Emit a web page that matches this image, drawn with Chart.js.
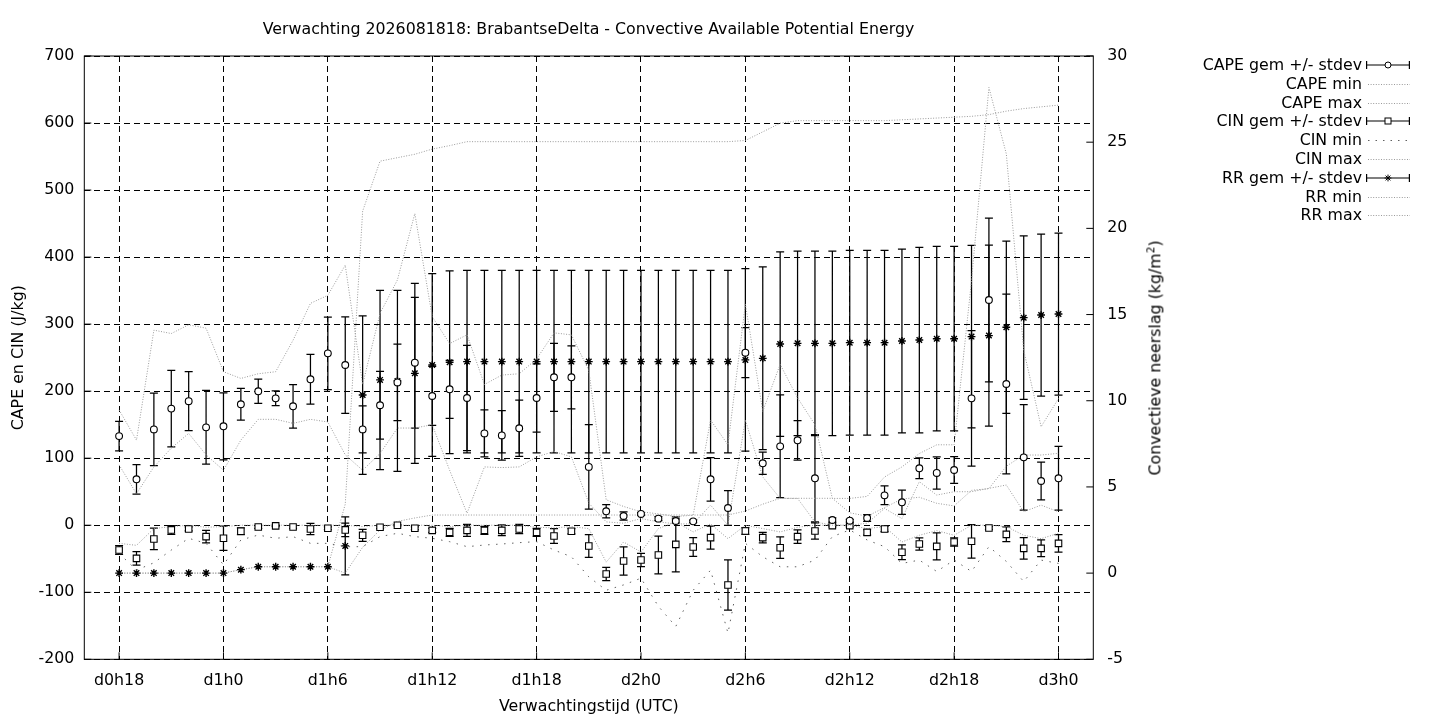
<!DOCTYPE html>
<html lang="nl">
<head>
<meta charset="utf-8">
<title>Verwachting CAPE BrabantseDelta</title>
<script src="https://cdn.jsdelivr.net/npm/chart.js@4.4.1/dist/chart.umd.min.js"></script>
<style>
  body { margin: 0; background: #fff; }
  #kader { position: relative; width: 1440px; height: 720px; font-family: "DejaVu Sans", sans-serif; color: #000; }
  #grafiek { position: absolute; left: 0; top: 0; }
  #titel { position: absolute; left: 84px; width: 1009px; top: 20px; text-align: center; font-size: 15.8px; line-height: 18px; }
  #y2titel { position: absolute; left: 1153px; top: 358px; font-size: 15.8px; line-height: 18px; white-space: nowrap; transform: translate(-50%, -50%) rotate(-90deg); }
  .rij { position: absolute; left: 1090px; width: 320px; height: 18px; font-size: 15.8px; line-height: 18px; }
  .rij span { position: absolute; right: 48px; top: 0; white-space: nowrap; }
  .rij svg { position: absolute; right: 0; top: 3px; }
</style>
</head>
<body>
<div id="kader">
  <canvas id="grafiek" width="1440" height="720"></canvas>
  <div id="titel">Verwachting 2026081818: BrabantseDelta - Convective Available Potential Energy</div>
  <div id="y2titel">Convectieve neerslag (kg/m<sup style="font-size:10.5px">2</sup>)</div>
  <div id="legenda"></div>
</div>
<script>
// uren na d0h0
const uren = [18,19,20,21,22,23,24,25,26,27,28,29,30,31,32,33,34,35,36,37,38,39,40,41,42,43,44,45,
  46,47,48,49,50,51,52,53,54,55,56,57,58,59,60,61,62,63,64,65,66,67,68,69,70,71,72];

const tijdTicks = [18, 24, 30, 36, 42, 48, 54, 60, 66, 72];
const tijdLabels = ['d0h18','d1h0','d1h6','d1h12','d1h18','d2h0','d2h6','d2h12','d2h18','d3h0'];

const capeGem = [133,68.5,143,174,185,146,147.6,180.4,199.8,189.3,177.4,217.7,256.4,239,143,179,213,242.5,
  192.8,202.8,189.8,137,134,144.6,189.8,220.7,220.7,87,20.8,13.8,16.8,9.8,6.3,5.8,68.5,25.7,257.4,92.4,
  117.7,126.7,70,7.8,6.8,10.8,44.6,34.2,84.9,78,82.4,189.3,336,210.7,101.3,66,70];
const capeSd = [22,22,54,57,44,55,50,23.6,18,11,32.5,37,54,72,35,50.5,57,97.5,44,43.3,78.5,35,37,42,51,
  50.7,47,63,10,6,2,3,3,2,32.5,26,37.3,16.5,76.6,29.4,65,3,2,5,14,18,15.5,24,20,101,122,134,78.6,28,47.5];
const capeMin = [90,47,87,115,137,105,82,127,158,158,152,158,154,105,82,107,145,145,150,82,18,87,86,87,
  102,110,102,33,5,3,10,5,2,2,30,0,157,72,40,40,5,0,0,3,25,10,65,45,50,50,55,60,20,30,20];
const capeMax = [172,127,291,286,299,294,229,219,226,229,276,331,343,388,210,316,366,465,311,271,284,210,
  224,226,248,287,284,231,38,28,20,17,13,15,157,120,330,170,240,190,150,40,40,43,72,87,107,120,120,365,
  653,554,261,147,189];

const cinGem = [-37,-49.4,-20.5,-7,-5.6,-17,-19.5,-9,-2.6,-1,-2.6,-5.6,-4.6,-7,-15,-3.1,0,-4.6,-7.6,-10.6,
  -7.6,-7.6,-7.6,-5.6,-10.6,-16,-9,-31,-72.8,-53.4,-51.9,-44.4,-28.5,-32.5,-18.5,-89.2,-8.6,-18.5,-33.5,
  -17,-8.6,-0.6,-0.6,-10.6,-5.6,-40.4,-28,-31.5,-25,-24,-4.1,-13.6,-34.5,-34.5,-27];
const cinSd = [6.5,10,16,6.5,3,9.5,18,5,2,1,2,8.5,2,10,9,2,1,2,3,6,9,6,8,7,6,11,4,17,10,21,10,28,41,14,17,
  37.5,5,8,16,10,12,2,2,4,4,11,9,20,6,25,2,11,16,12.5,13];
const cinMin = [-42,-67,-56,-37,-19.5,-27,-59,-22,-14.6,-19.5,-17,-27,-27,-32,-32,-17,-12,-17,-19.5,-24.5,
  -32,-29.5,-28,-26,-24.5,-37,-47,-77,-97,-89,-79,-121,-151,-97,-67,-161,-27,-47,-62,-62,-52,-17,-7,-22,
  -32,-57,-52,-69,-52,-69,-32,-54,-84,-52,-57];
const cinMax = [-27,-30,-5,-2,0,-3,-2,0,0,0,0,0,0,0,-2,0,0,0,0,-2,0,0,0,0,-3,-4,-2,-5,-55,-25,-40,-5,5,
  -10,2,-20,0,-5,-10,-3,0,0,0,-5,-2,-25,-15,-8,-15,0,0,-2,-15,-20,-12];

const rrGem = [0,0,0,0,0,0,0,0.2,0.37,0.37,0.37,0.37,0.37,1.58,10.33,11.21,11.15,11.59,12.07,12.23,
  12.27,12.27,12.27,12.27,12.27,12.27,12.27,12.27,12.27,12.27,12.27,12.27,12.27,12.27,12.27,12.27,
  12.37,12.46,13.29,13.33,13.33,13.33,13.37,13.37,13.37,13.47,13.52,13.6,13.6,13.72,13.78,14.26,14.82,14.97,15.03];
const rrSd = [0,0,0,0,0,0,0,0,0,0,0,0,0,1.68,4.6,5.2,5.25,5.22,5.3,5.3,5.3,5.3,5.3,5.3,5.3,5.3,5.3,5.3,
  5.3,5.3,5.3,5.3,5.3,5.3,5.3,5.3,5.3,5.3,5.35,5.35,5.35,5.35,5.36,5.36,5.36,5.33,5.38,5.35,5.35,5.3,
  5.25,5.0,4.74,4.7,4.7];
const rrMin = [0,0,0,0,0,0,0,0.2,0.37,0.37,0.37,0.37,0.37,0,1.5,2.5,3.0,3.2,3.37,3.37,3.37,3.37,3.37,3.37,
  3.37,3.37,3.37,3.37,3.37,3.37,3.37,3.37,3.37,3.37,3.37,3.37,3.6,4.0,4.34,4.34,4.34,4.34,3.5,3.3,3.8,4.3,
  4.4,4.05,3.9,4.8,4.9,6.2,6.85,6.85,6.95];
const rrMax = [0,0,0,0,0,0,0,0.2,0.37,0.37,0.37,0.37,0.37,4,21,23.9,24.1,24.3,24.6,24.8,25.03,25.03,25.03,
  25.03,25.03,25.03,25.03,25.03,25.03,25.03,25.03,25.03,25.03,25.03,25.03,25.03,25.1,25.6,26.1,26.25,
  26.25,26.25,26.25,26.25,26.25,26.3,26.35,26.4,26.45,26.5,26.6,26.8,26.95,27.05,27.15];

const legendaTeksten = ['CAPE gem +/- stdev','CAPE min','CAPE max','CIN gem +/- stdev','CIN min','CIN max',
  'RR gem +/- stdev','RR min','RR max'];
const legendaSoort = ['cirkel','stip','stip','vierkant','grof','stip','ster','stip','stip'];

const lichtGrijs = '#9a9a9a';
const donkerGrijs = '#606060';

function punten(waarden) {
  return waarden.map((v, i) => ({ x: uren[i], y: v }));
}

function stippellijn(label, waarden, as, kleur, streep) {
  return {
    label, data: punten(waarden), yAxisID: as,
    borderColor: kleur, borderWidth: 1, borderDash: streep,
    pointRadius: 0, pointHoverRadius: 0, fill: false, tension: 0
  };
}

function gemiddelde(label, waarden, sd, as, stijl, straal, dikte) {
  return {
    label, data: punten(waarden), stdev: sd, yAxisID: as,
    showLine: false, pointStyle: stijl, pointRadius: straal,
    pointBorderColor: '#000', pointBackgroundColor: '#fff', pointBorderWidth: dikte
  };
}

// foutbalken (gem +/- stdev) tekenen met de schalen van de grafiek
const foutbalken = {
  id: 'foutbalken',
  beforeDatasetsDraw(chart) {
    const ctx = chart.ctx;
    const xs = chart.scales.x;
    chart.data.datasets.forEach(ds => {
      if (!ds.stdev) return;
      const ys = chart.scales[ds.yAxisID];
      ctx.save();
      ctx.strokeStyle = '#000';
      ctx.lineWidth = 1.25;
      ctx.beginPath();
      ds.data.forEach((p, j) => {
        const s = ds.stdev[j];
        if (!s) return;
        const x = xs.getPixelForValue(p.x);
        const boven = ys.getPixelForValue(p.y + s);
        const onder = ys.getPixelForValue(p.y - s);
        ctx.moveTo(x, boven); ctx.lineTo(x, onder);
        ctx.moveTo(x - 4, boven); ctx.lineTo(x + 4, boven);
        ctx.moveTo(x - 4, onder); ctx.lineTo(x + 4, onder);
      });
      ctx.stroke();
      ctx.restore();
    });
  }
};

// rand om het plotgebied met tics naar binnen (zoals gnuplot)
const rand = {
  id: 'rand',
  afterDatasetsDraw(chart) {
    const { ctx, chartArea: a, scales } = chart;
    ctx.save();
    ctx.setLineDash([]);
    ctx.strokeStyle = '#000';
    ctx.lineWidth = 1;
    ctx.strokeRect(a.left, a.top, a.right - a.left, a.bottom - a.top);
    ctx.beginPath();
    scales.y.ticks.forEach(t => {
      const y = scales.y.getPixelForValue(t.value);
      ctx.moveTo(a.left, y); ctx.lineTo(a.left + 7, y);
    });
    scales.y2.ticks.forEach(t => {
      const y = scales.y2.getPixelForValue(t.value);
      ctx.moveTo(a.right, y); ctx.lineTo(a.right - 7, y);
    });
    scales.x.ticks.forEach(t => {
      const x = scales.x.getPixelForValue(t.value);
      ctx.moveTo(x, a.bottom); ctx.lineTo(x, a.bottom - 7);
    });
    ctx.stroke();
    ctx.restore();
  }
};

Chart.defaults.font.family = '"DejaVu Sans", sans-serif';
Chart.defaults.font.size = 15.8;
Chart.defaults.color = '#000';

const rasterLijn = { color: '#000', lineWidth: 1, drawTicks: false };

new Chart(document.getElementById('grafiek'), {
  type: 'line',
  data: {
    datasets: [
      gemiddelde('CAPE gem +/- stdev', capeGem, capeSd, 'y', 'circle', 3.4, 1.1),
      stippellijn('CAPE min', capeMin, 'y', lichtGrijs, [1, 1.6]),
      stippellijn('CAPE max', capeMax, 'y', lichtGrijs, [1, 1.6]),
      gemiddelde('CIN gem +/- stdev', cinGem, cinSd, 'y', 'rect', 4.6, 1.1),
      stippellijn('CIN min', cinMin, 'y', donkerGrijs, [1.5, 6.5]),
      stippellijn('CIN max', cinMax, 'y', lichtGrijs, [1, 1.6]),
      gemiddelde('RR gem +/- stdev', rrGem, rrSd, 'y2', 'star', 3.9, 1.4),
      stippellijn('RR min', rrMin, 'y2', lichtGrijs, [1, 1.6]),
      stippellijn('RR max', rrMax, 'y2', lichtGrijs, [1, 1.6])
    ]
  },
  options: {
    responsive: false,
    animation: false,
    devicePixelRatio: 1,
    layout: { padding: { left: 0, right: 276.7, top: 56, bottom: 0 } },
    plugins: { legend: { display: false }, tooltip: { enabled: false } },
    scales: {
      x: {
        type: 'linear', min: 16, max: 74,
        afterBuildTicks: s => { s.ticks = tijdTicks.map(v => ({ value: v })); },
        afterFit: s => { s.height = 60.7; },
        ticks: {
          padding: 12, maxRotation: 0, autoSkip: false,
          callback: v => tijdLabels[tijdTicks.indexOf(v)]
        },
        grid: rasterLijn,
        border: { display: false, dash: [6, 4] },
        title: { display: true, text: 'Verwachtingstijd (UTC)', padding: { top: 0, bottom: 4 } }
      },
      y: {
        position: 'left', min: -200, max: 700,
        afterFit: s => { s.width = 84.3; },
        ticks: { stepSize: 100, padding: 10 },
        grid: rasterLijn,
        border: { display: false, dash: [6, 4] },
        title: { display: true, text: 'CAPE en CIN (J/kg)', padding: { top: 9, bottom: 0 } }
      },
      y2: {
        position: 'right', min: -5, max: 30,
        afterFit: s => { s.width = 70; },
        ticks: { stepSize: 5, padding: 14 },
        grid: { display: false, drawTicks: false },
        border: { display: false }
      }
    }
  },
  plugins: [foutbalken, rand]
});

// legenda zoals gnuplot: tekst rechts uitgelijnd, voorbeeld ernaast
function voorbeeld(soort) {
  const balk = '<path d="M0.6 2V10M0.6 6H43.4M43.4 2V10" stroke="#000" stroke-width="1.2" fill="none"/>';
  if (soort === 'cirkel') return balk + '<circle cx="22" cy="6" r="3" fill="#fff" stroke="#000"/>';
  if (soort === 'vierkant') return balk + '<rect x="19" y="3" width="6" height="6" fill="#fff" stroke="#000"/>';
  if (soort === 'ster') return balk + '<path d="M18.6 6H25.4M22 2.6V9.4M19.6 3.6L24.4 8.4M24.4 3.6L19.6 8.4" stroke="#000" fill="none"/>';
  if (soort === 'grof') return '<line x1="2" y1="6.5" x2="44" y2="6.5" stroke="' + donkerGrijs + '" stroke-dasharray="1.5 6"/>';
  return '<line x1="2" y1="6.5" x2="44" y2="6.5" stroke="' + lichtGrijs + '" stroke-dasharray="1 1.6"/>';
}

const legenda = document.getElementById('legenda');
legendaTeksten.forEach((tekst, k) => {
  const rij = document.createElement('div');
  rij.className = 'rij';
  rij.style.top = (56 + k * 18.8) + 'px';
  rij.innerHTML = '<span>' + tekst + '</span><svg width="44" height="12">' + voorbeeld(legendaSoort[k]) + '</svg>';
  legenda.appendChild(rij);
});
</script>
</body>
</html>
